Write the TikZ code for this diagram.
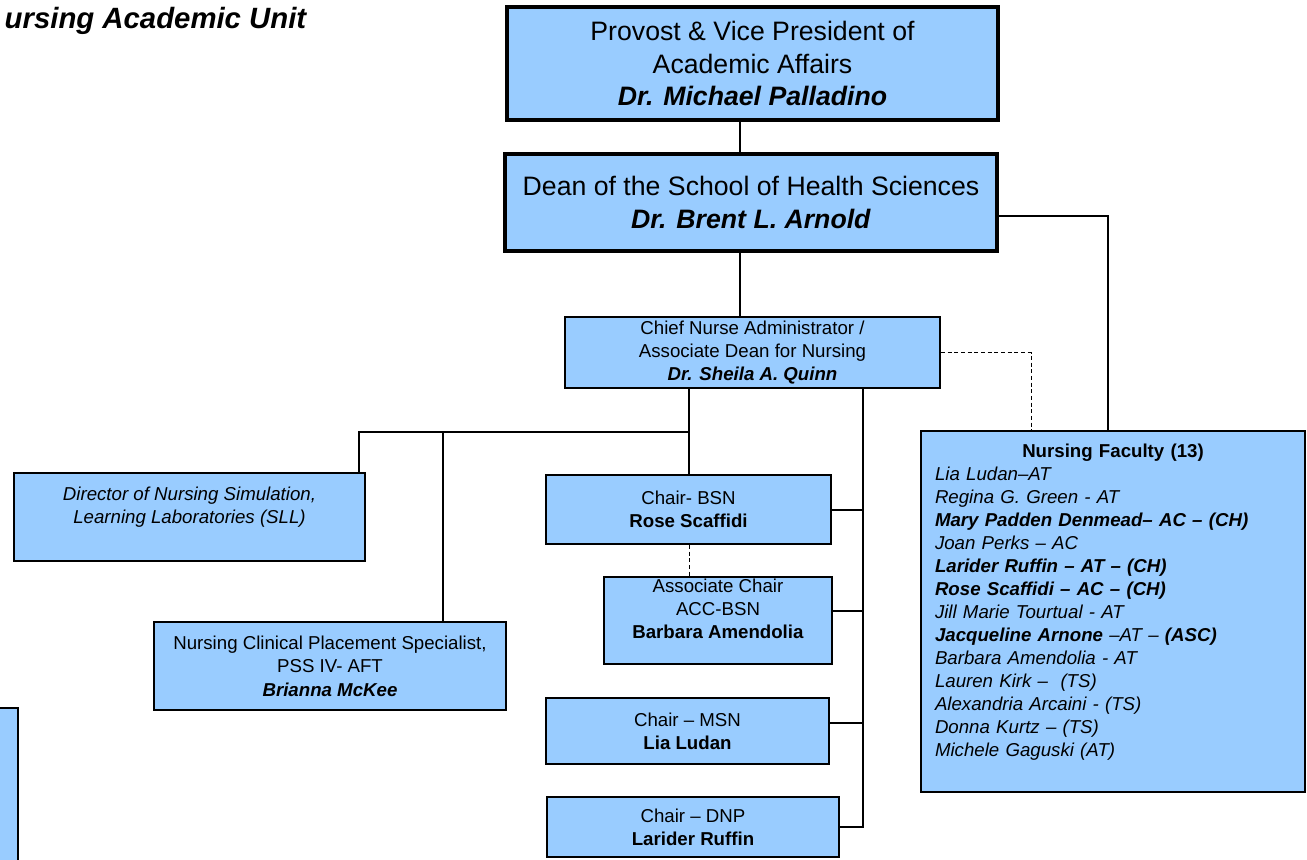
\documentclass[tikz,border=0pt]{standalone}
\usepackage{fontspec}
\setmainfont{Liberation Sans}
\usepackage{tikz}
\usetikzlibrary{shapes,arrows}

\definecolor{bleu}{RGB}{153,204,255}

\begin{document}
\begin{tikzpicture}[x=0.75pt,y=-0.75pt]
	\tikzstyle{grand}=[rectangle,draw=black,line width=3pt,fill=bleu,
	align=center,inner sep=0pt,font=\fontsize{20}{24.4}\selectfont]
	\tikzstyle{boite}=[rectangle,draw=black,line width=1.5pt,fill=bleu,
	align=center,inner sep=0pt,font=\fontsize{14}{17.5}\selectfont]
	\tikzstyle{lien}=[line width=1.5pt,line cap=rect]
	\tikzstyle{pointille}=[line width=0.75pt,dash pattern=on 3pt off 2pt]

	\useasboundingbox (0,0) rectangle (1307,860);

	\node[anchor=base west,font=\fontsize{22}{26}\selectfont\bfseries\itshape]
	(titre) at (0,28) {ursing Academic Unit};

	\node[grand,minimum width=368.25pt,minimum height=84.75pt] (prov) at
	(752.5,63.5) {Provost \& Vice President of\\Academic Affairs\\
	\textbf{\textit{Dr. Michael Palladino}}};
	\node[grand,minimum width=369pt,minimum height=72.75pt] (dean) at
	(751,202.5) {Dean of the School of Health Sciences\\
	\textbf{\textit{Dr. Brent L. Arnold}}};
	\node[boite,minimum width=281.25pt,minimum height=53.25pt] (chief) at
	(752.5,352.5) {Chief Nurse Administrator /\\Associate Dean for Nursing\\
	\textbf{\textit{Dr. Sheila A. Quinn}}};
	\node[boite,minimum width=288pt,minimum height=270.75pt,text width=267pt,
	inner xsep=10.5pt,align=left,font=\fontsize{14}{17.25}\selectfont] (fac)
	at (1113,611.5) {\centering\textbf{Nursing Faculty (13)}\par
	\raggedright\itshape Lia Ludan–AT\\
	Regina G. Green - AT\\
	\textbf{Mary Padden Denmead– AC – (CH)}\\
	Joan Perks – AC\\
	\textbf{Larider Ruffin – AT – (CH)}\\
	\textbf{Rose Scaffidi – AC – (CH)}\\
	Jill Marie Tourtual - AT\\
	\textbf{Jacqueline Arnone} –AT – \textbf{(ASC)}\\
	Barbara Amendolia - AT\\
	Lauren Kirk –\ \ (TS)\\
	Alexandria Arcaini - (TS)\\
	Donna Kurtz – (TS)\\
	Michele Gaguski (AT)\\
	\mbox{}};
	\node[boite,minimum width=263.25pt,minimum height=66pt,
	font=\fontsize{14}{17.5}\selectfont\itshape] (dir) at (189.5,517)
	{Director of Nursing Simulation,\\Learning Laboratories (SLL)\\ \mbox{}};
	\node[boite,minimum width=264pt,minimum height=66pt] (clin) at (330,666)
	{Nursing Clinical Placement Specialist,\\PSS IV- AFT\\
	\textbf{\textit{Brianna McKee}}};
	\node[boite,minimum width=213.75pt,minimum height=51.75pt] (bsn) at
	(688.5,509.5) {Chair- BSN\\\textbf{Rose Scaffidi}};
	\node[boite,minimum width=171pt,minimum height=65.25pt] (acc) at
	(718,620.5) {Associate Chair\\ACC-BSN\\\textbf{Barbara Amendolia}\\ \mbox{}};
	\node[boite,minimum width=212.25pt,minimum height=49.5pt] (msn) at
	(687.5,731) {Chair – MSN\\\textbf{Lia Ludan}};
	\node[boite,minimum width=219pt,minimum height=45pt] (dnp) at
	(693,827) {Chair – DNP\\\textbf{Larider Ruffin}};

	% boite coupee en bas a gauche
	\fill[bleu] (0,708) rectangle (18,860);
	\draw[lien] (0,708) -- (18,708) -- (18,860);

	\coordinate (axe) at (740,0);
	\coordinate (facx) at (1108,0);
	\coordinate (tiret) at (1031,0);
	\coordinate (barG) at (359,432);
	\coordinate (barC) at (443,432);
	\coordinate (barD) at (689,432);
	\coordinate (droite) at (863,0);

	\draw[lien] (prov.south -| axe) -- (dean.north -| axe);
	\draw[lien] (dean.south -| axe) -- (chief.north -| axe);
	\draw[lien] ([yshift=-10pt]dean.east) -| (fac.north -| facx);
	\draw[pointille] (chief.east) -| (fac.north -| tiret);
	\draw[lien] (chief.south -| barD) -- (bsn.north -| barD);
	\draw[lien] (barD) -- (barG) -- (dir.north -| barG);
	\draw[lien] (barC) -- (clin.north -| barC);
	\draw[lien] (chief.south -| droite) -- (dnp.east -| droite) -- (dnp.east);
	\draw[lien] (bsn.east) -- (bsn.east -| droite);
	\draw[lien] ([yshift=7.5pt]acc.east) -- ([yshift=7.5pt]acc.east -| droite);
	\draw[lien] ([yshift=6pt]msn.east) -- ([yshift=6pt]msn.east -| droite);
	\draw[pointille] ([xshift=1pt]bsn.south) -- ([xshift=1pt]acc.north -| bsn.south);
\end{tikzpicture}
\end{document}
